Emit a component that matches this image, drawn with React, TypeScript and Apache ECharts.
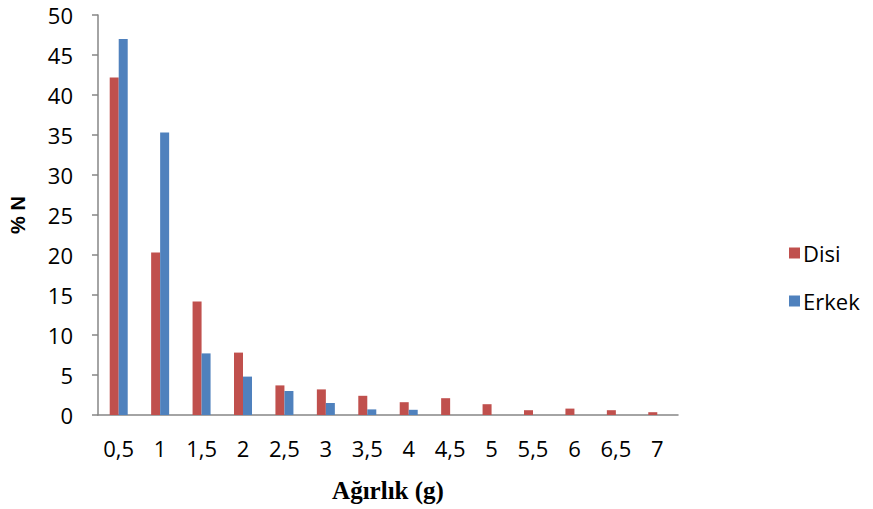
import React, { useEffect, useRef } from "react";
import * as echarts from "echarts";

const categories = ["0,5", "1", "1,5", "2", "2,5", "3", "3,5", "4", "4,5", "5", "5,5", "6", "6,5", "7"];
const disi = [42.2, 20.3, 14.2, 7.8, 3.7, 3.2, 2.4, 1.6, 2.1, 1.35, 0.6, 0.8, 0.6, 0.35];
const erkek = [47.0, 35.3, 7.7, 4.8, 3.0, 1.5, 0.7, 0.65, 0, 0, 0, 0, 0, 0];

export default function App() {
  const ref = useRef<HTMLDivElement>(null);
  useEffect(() => {
    const chart = echarts.init(ref.current!, null, { renderer: "svg" });
    const labelFont = "'Open Sans', 'Liberation Sans', sans-serif";
    chart.setOption({
      animation: false,
      grid: { left: 97, right: 195, top: 15, bottom: 94, containLabel: false },
      legend: {
        orient: "vertical",
        left: 784,
        top: 237,
        itemWidth: 11,
        itemHeight: 11,
        itemGap: 26,
        icon: "rect",
        textStyle: { fontSize: 22, fontFamily: labelFont, color: "#000", padding: [0, 0, 0, -2] },
        data: ["Disi", "Erkek"],
      },
      xAxis: {
        type: "category",
        data: categories,
        name: "Ağırlık (g)",
        nameLocation: "middle",
        nameGap: 63,
        nameTextStyle: { fontSize: 25, fontWeight: "bold", fontFamily: "'Liberation Serif', 'Times New Roman', serif", color: "#000" },
        axisLine: { lineStyle: { color: "#868686", width: 1.5 } },
        axisTick: { show: false },
        axisLabel: { fontSize: 22, fontFamily: labelFont, color: "#000", margin: 22, interval: 0 },
      },
      yAxis: {
        type: "value",
        min: 0,
        max: 50,
        interval: 5,
        name: "% N",
        nameLocation: "middle",
        nameGap: 70,
        nameTextStyle: { fontSize: 20, fontWeight: "bold", fontFamily: "'Liberation Sans', Arial, sans-serif", color: "#000" },
        axisLine: { show: true, lineStyle: { color: "#868686", width: 1.5 } },
        axisTick: { show: true, length: 6, lineStyle: { color: "#868686", width: 1.5 } },
        splitLine: { show: false },
        axisLabel: { fontSize: 22, fontFamily: labelFont, color: "#000", margin: 25 },
      },
      series: [
        {
          name: "Disi",
          type: "bar",
          data: disi,
          barWidth: 9,
          barGap: "0%",
          itemStyle: { color: "#C0504D" },
        },
        {
          name: "Erkek",
          type: "bar",
          data: erkek,
          barWidth: 9,
          barGap: "0%",
          itemStyle: { color: "#4F81BD" },
        },
      ],
    });
    return () => chart.dispose();
  }, []);
  return <div ref={ref} style={{ width: 873, height: 509, position: "absolute", left: 0, top: 0 }} />;
}
